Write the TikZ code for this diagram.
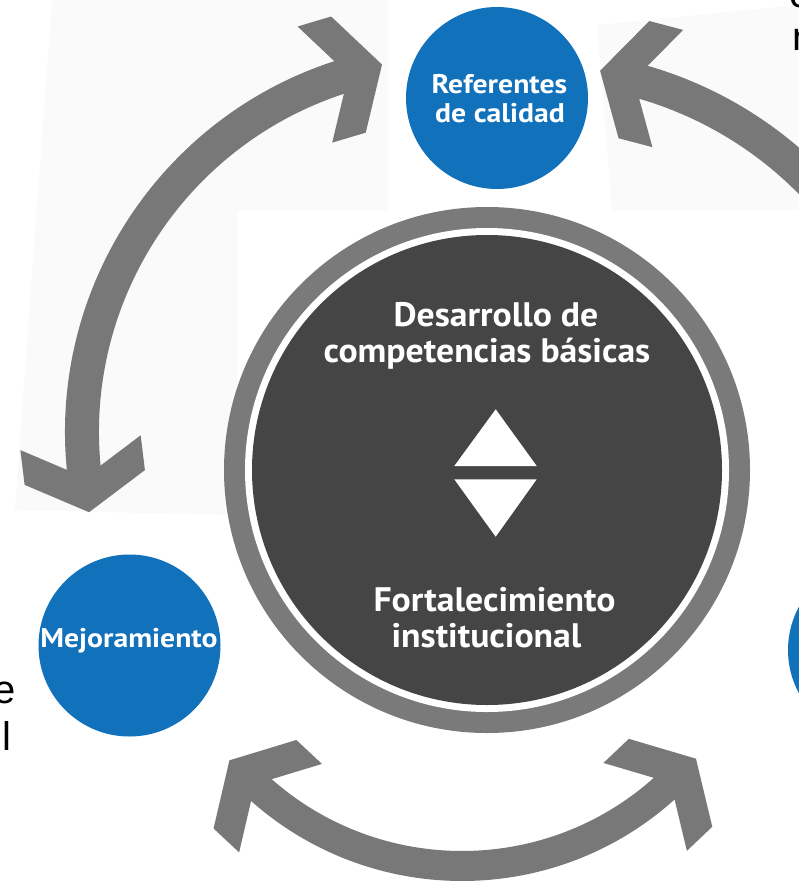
\documentclass[tikz,border=0pt]{standalone}
\usepackage{fontspec}
\setmainfont{PT Sans}
\newfontfamily\bigfont{PT Sans}[FakeStretch=1.05]
\newfontfamily\smallfont{PT Sans}[FakeStretch=1.1]
\newfontfamily\fragfont{Liberation Sans}
\usetikzlibrary{calc}
\definecolor{bluecirc}{RGB}{18,113,187}
\definecolor{darkcirc}{RGB}{69,69,69}
\definecolor{arrowgrey}{RGB}{120,120,120}
\definecolor{ringgrey}{RGB}{122,122,122}
\definecolor{offwhite}{RGB}{250,250,250}
\newcommand{\chevhead}[2]{\fill[arrowgrey, shift={#1}, rotate={-(#2)}] (35,0) -- (0,60.6) -- (-35,60.6) -- (0,0) -- (-35,-60.6) -- (0,-60.6) -- cycle;}
\begin{document}
\begin{tikzpicture}[x=1pt,y=-1pt,
  shaft/.style={draw=arrowgrey, line width=34pt},
  bluenode/.style={circle, fill=bluecirc, inner sep=0pt, minimum size=182pt},
  bigtext/.style={text=white, font=\bigfont\fontsize{34}{38}\selectfont\bfseries, inner sep=0pt, anchor=base},
  smalltext/.style={text=white, font=\smallfont\fontsize{27}{31}\selectfont\bfseries, inner sep=0pt, anchor=base},
  fragtext/.style={text=black, font=\fragfont\fontsize{40}{44}\selectfont, inner sep=0pt}]
\useasboundingbox (0,0) rectangle (798,894);
\fill[white] (0,0) rectangle (798,894);
\fill[offwhite] (52,0) -- (388,0) -- (388,210) -- (237,210) -- (237,515) -- (15,510) -- cycle;
\fill[offwhite] (597,25) -- (798,5) -- (798,210) -- (612,210) -- cycle;

% arcs
\coordinate (Lc) at (455,432);
\coordinate (Rc) at (536,453);
\coordinate (Bc) at (462,563);
\coordinate (Lbot) at ($(Lc)+(173:373)$);
\coordinate (Ltop) at ($(Lc)+(253.4:373)$);
\coordinate (Rtop) at ($(Rc)+(-75.3:386)$);
\coordinate (Bleft) at ($(Bc)+(133.1:303)$);
\coordinate (Bright) at ($(Bc)+(46.5:303)$);

\draw[shaft] ($(Lc)+(172:373)$) arc[start angle=172, end angle=254.4, radius=373];
\chevhead{(Lbot)}{83}
\chevhead{(Ltop)}{343.4}

\draw[shaft] ($(Rc)+(-76.3:386)$) arc[start angle=-76.3, end angle=-25, radius=386];
\chevhead{(Rtop)}{-165.3}

\draw[shaft, line width=30pt] ($(Bc)+(45.5:303)$) arc[start angle=45.5, end angle=134.1, radius=303];
\chevhead{(Bleft)}{223.1}
\chevhead{(Bright)}{-43.5}

% central disc
\coordinate (C) at (487,470);
\fill[ringgrey] (C) circle[radius=263];
\fill[white] (C) circle[radius=242];
\fill[darkcirc] (C) circle[radius=235];

\fill[white] (495.7,409.3) -- (536.7,466) -- (454.3,466) -- cycle;
\fill[white] (454.3,479.3) -- (536.7,479.3) -- (495.7,536.7) -- cycle;

\node[bigtext] (d1) at (496,326) {Desarrollo de};
\node[bigtext] (d2) at (487,362) {competencias básicas};
\node[bigtext] (f1) at (494.5,611) {Fortalecimiento};
\node[bigtext] (f2) at (486.5,647) {institucional};

% blue circles
\node[bluenode] (ref) at (497,98) {};
\node[bluenode] (mej) at (129.5,645.5) {};
\node[bluenode] (rgt) at (879,650) {};
\node[smalltext] (r1) at (499.5,93) {Referentes};
\node[smalltext] (r2) at (500,122) {de calidad};
\node[smalltext] (m1) at (129,647) {Mejoramiento};

% cut-off text fragments
\node[fragtext, anchor=base east] (fe) at (16,703) {e};
\node[fragtext, anchor=base west] (fl) at (2.5,750) {l};
\node[fragtext, anchor=base west] (fc) at (789,8) {c};
\node[fragtext, anchor=base west] (fr) at (792.5,50) {r};
\end{tikzpicture}
\end{document}
